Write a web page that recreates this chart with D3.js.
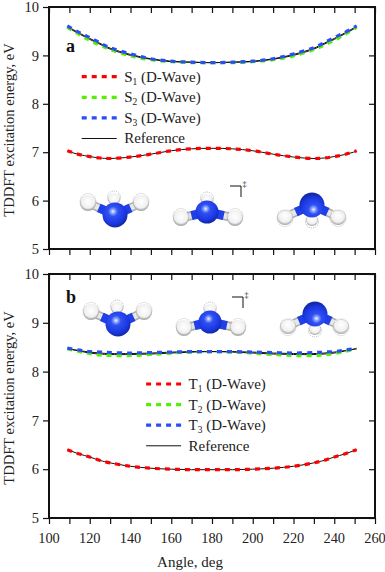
<!DOCTYPE html>
<html>
<head>
<meta charset="utf-8">
<script src="https://cdn.jsdelivr.net/npm/d3@7"></script>
<style>
  html, body { margin: 0; padding: 0; background: #fff; }
  text { font-family: "Liberation Serif", serif; fill: #222; }
</style>
</head>
<body>
<div id="chart"></div>
<script>
//Data
const angles = [109, 115, 120, 125, 130, 140, 150, 160, 170, 180, 190, 200, 210, 220, 230, 235, 240, 245, 251];

const s1Wave = [7.03, 6.95, 6.91, 6.88, 6.87, 6.90, 6.96, 7.03, 7.07, 7.08, 7.07, 7.03, 6.96, 6.90, 6.87, 6.88, 6.91, 6.95, 7.03];
const s2Wave = [9.58, 9.43, 9.31, 9.21, 9.12, 8.99, 8.91, 8.87, 8.85, 8.85, 8.85, 8.87, 8.91, 8.99, 9.12, 9.21, 9.31, 9.43, 9.58];
const s3Wave = [9.61, 9.47, 9.37, 9.26, 9.16, 9.03, 8.93, 8.88, 8.86, 8.85, 8.86, 8.88, 8.93, 9.03, 9.16, 9.26, 9.37, 9.47, 9.61];
const s1Ref = [7.02, 6.95, 6.91, 6.88, 6.87, 6.90, 6.96, 7.03, 7.07, 7.08, 7.07, 7.03, 6.96, 6.90, 6.87, 6.88, 6.91, 6.95, 7.02];
const s2Ref = [9.58, 9.44, 9.33, 9.23, 9.13, 9.00, 8.92, 8.87, 8.86, 8.85, 8.86, 8.87, 8.92, 9.00, 9.13, 9.23, 9.33, 9.44, 9.58];
const s3Ref = [9.60, 9.46, 9.35, 9.25, 9.15, 9.02, 8.93, 8.88, 8.86, 8.85, 8.86, 8.88, 8.93, 9.02, 9.15, 9.25, 9.35, 9.46, 9.60];

const t1Wave = [6.40, 6.31, 6.25, 6.18, 6.13, 6.06, 6.02, 6.00, 5.99, 5.99, 5.99, 6.00, 6.02, 6.06, 6.13, 6.18, 6.25, 6.31, 6.40];
const t2Wave = [8.47, 8.41, 8.37, 8.34, 8.33, 8.33, 8.35, 8.38, 8.40, 8.41, 8.40, 8.38, 8.35, 8.33, 8.33, 8.34, 8.37, 8.41, 8.47];
const t3Wave = [8.48, 8.44, 8.41, 8.40, 8.39, 8.38, 8.39, 8.40, 8.41, 8.41, 8.41, 8.40, 8.39, 8.38, 8.39, 8.40, 8.41, 8.44, 8.48];
const t1Ref = [6.40, 6.31, 6.25, 6.18, 6.13, 6.06, 6.02, 6.00, 5.99, 5.99, 5.99, 6.00, 6.02, 6.06, 6.13, 6.18, 6.25, 6.31, 6.40];
const t2Ref = [8.47, 8.42, 8.38, 8.36, 8.35, 8.35, 8.36, 8.38, 8.40, 8.41, 8.40, 8.38, 8.36, 8.35, 8.35, 8.36, 8.38, 8.42, 8.47];
const t3Ref = [8.47, 8.43, 8.40, 8.38, 8.37, 8.37, 8.38, 8.40, 8.41, 8.41, 8.41, 8.40, 8.38, 8.37, 8.37, 8.38, 8.40, 8.43, 8.47];

const xMajor = [100, 120, 140, 160, 180, 200, 220, 240, 260];
const xMinor = [100, 110, 120, 130, 140, 150, 160, 170, 180, 190, 200, 210, 220, 230, 240, 250, 260];
const yTicks = [5, 6, 7, 8, 9, 10];

const seriesColors = ['#ff0000', '#55f000', '#2a4df5'];

//Chart dimensions
const left = 49, right = 375;
const panelA = { top: 7, bot: 249, letter: 'a', letterY: 52, prefix: 'S', wave: [s1Wave, s2Wave, s3Wave], ref: [s1Ref, s2Ref, s3Ref],
  legendX: 124.4, legendY: 8.56 };
const panelB = { top: 274, bot: 518, letter: 'b', letterY: 303, prefix: 'T', wave: [t1Wave, t2Wave, t3Wave], ref: [t1Ref, t2Ref, t3Ref],
  legendX: 156, legendY: 7.746 };

const xScale = d3.scaleLinear().domain([100, 260]).range([left, right]);

const svg = d3.select('#chart').append('svg')
  .attr('width', 385)
  .attr('height', 572)
  .style('display', 'block');

const defs = svg.append('defs');
function nucleus(id, cx, cy) {
  const grad = defs.append('radialGradient').attr('id', id)
    .attr('cx', cx).attr('cy', cy).attr('r', '0.62');
  grad.append('stop').attr('offset', '0').attr('stop-color', '#f2f6ff');
  grad.append('stop').attr('offset', '0.14').attr('stop-color', '#8aa4ff');
  grad.append('stop').attr('offset', '0.32').attr('stop-color', '#2f50f2');
  grad.append('stop').attr('offset', '0.8').attr('stop-color', '#1a36e0');
  grad.append('stop').attr('offset', '1').attr('stop-color', '#142aa8');
}
nucleus('nDown', '0.42', '0.36');
nucleus('nFlat', '0.44', '0.36');
nucleus('nUp', '0.56', '0.68');
const hGrad = defs.append('radialGradient').attr('id', 'hGrad')
  .attr('cx', '0.5').attr('cy', '0.42').attr('r', '0.62');
hGrad.append('stop').attr('offset', '0').attr('stop-color', '#ffffff');
hGrad.append('stop').attr('offset', '0.65').attr('stop-color', '#f0f0f0');
hGrad.append('stop').attr('offset', '1').attr('stop-color', '#8c8c8c');

function drawPanel(p) {
  const yScale = d3.scaleLinear().domain([5, 10]).range([p.bot, p.top]);
  const g = svg.append('g');

  //Lines
  const line = d3.line()
    .x((d, i) => xScale(angles[i]))
    .y(d => yScale(d))
    .curve(d3.curveCatmullRom);

  p.ref.forEach(values => {
    g.append('path')
      .attr('d', line(values))
      .attr('fill', 'none')
      .attr('stroke', '#111')
      .attr('stroke-width', 1);
  });
  p.wave.forEach((values, i) => {
    g.append('path')
      .attr('d', line(values))
      .attr('fill', 'none')
      .attr('stroke', seriesColors[i])
      .attr('stroke-width', 3.2)
      .attr('stroke-dasharray', '5 5');
  });

  //Axes
  g.append('g').attr('transform', `translate(0, ${p.bot})`)
    .call(d3.axisBottom(xScale).tickValues(xMinor).tickFormat('').tickSizeOuter(0));
  g.append('g').attr('transform', `translate(0, ${p.top})`)
    .call(d3.axisTop(xScale).tickValues(xMinor).tickFormat('').tickSizeOuter(0).tickSizeInner(-6));
  g.append('g').attr('transform', `translate(${left}, 0)`)
    .attr('class', 'y-left')
    .call(d3.axisLeft(yScale).tickValues(yTicks).tickFormat(d3.format('d')).tickSizeOuter(0).tickSize(6).tickPadding(4));
  g.append('g').attr('transform', `translate(${right}, 0)`)
    .call(d3.axisRight(yScale).tickValues(yTicks).tickFormat('').tickSizeOuter(0).tickSizeInner(-6));

  g.selectAll('.tick line').attr('stroke', '#111').attr('stroke-width', 1.2);
  g.selectAll('.domain').remove();
  g.selectAll('.y-left text').style('font-family', '"Liberation Serif", serif').style('font-size', '14.5px').attr('fill', '#222');

  //Frame
  g.append('rect')
    .attr('x', left)
    .attr('y', p.top)
    .attr('width', right - left)
    .attr('height', p.bot - p.top)
    .attr('fill', 'none')
    .attr('stroke', '#111')
    .attr('stroke-width', 2);

  //Panel letter
  g.append('text')
    .attr('x', 66)
    .attr('y', p.letterY)
    .style('font-size', '18px')
    .style('font-weight', 'bold')
    .style('fill', '#111')
    .text(p.letter);

  //Y label
  g.append('text')
    .attr('transform', `translate(13.5, ${(p.top + p.bot) / 2 + 2}) rotate(-90)`)
    .attr('text-anchor', 'middle')
    .style('font-size', '14.5px')
    .text('TDDFT excitation energy, eV');

  //Legend
  const lx = xScale(p.legendX) - 17;
  const ly = yScale(p.legendY);
  [0, 1, 2, 3].forEach(i => {
    const rowY = ly + i * 20.6;
    g.append('line')
      .attr('x1', lx).attr('x2', lx + 35)
      .attr('y1', rowY).attr('y2', rowY)
      .attr('stroke', i < 3 ? seriesColors[i] : '#111')
      .attr('stroke-width', i < 3 ? 3.2 : 1)
      .attr('stroke-dasharray', i < 3 ? '5 5' : null);
    const label = g.append('text')
      .attr('x', lx + 42.5)
      .attr('y', rowY + 5)
      .style('font-size', '15px');
    if (i < 3) {
      label.append('tspan').text(p.prefix);
      label.append('tspan').attr('dy', 3).style('font-size', '9.5px').text(i + 1);
      label.append('tspan').attr('dy', -3).text(' (D-Wave)');
    } else {
      label.text('Reference');
    }
  });
  return g;
}

//Ball and stick NH3, offsets are from the N atom
const moleculeShapes = {
  down: { grad: 'nDown', r: 12.5, side: [[-27, -12], [26, -12]], rear: [-1, -16], rearR: 6, ghost: -1.5 },
  flat: { grad: 'nFlat', r: 11.5, side: [[-26, 6], [28, 6]], rear: [0, -12], rearR: 6, ghost: -1.5 },
  up: { grad: 'nUp', r: 12.5, side: [[-27, 12], [26, 12]], rear: [0, 15], rearR: 6, ghost: 1.5 }
};

function molecule(g, cx, cy, kind) {
  const s = moleculeShapes[kind];
  const m = g.append('g').attr('transform', `translate(${cx}, ${cy})`);
  //the rear H sits behind the N
  m.append('circle').attr('cx', s.rear[0]).attr('cy', s.rear[1]).attr('r', s.rearR)
    .attr('fill', 'url(#hGrad)');
  m.append('circle').attr('cx', s.rear[0]).attr('cy', s.rear[1] + s.ghost).attr('r', s.rearR + 0.5)
    .attr('fill', 'none').attr('stroke', '#888').attr('stroke-dasharray', '1 1').attr('stroke-width', 0.6);
  s.side.forEach(h => {
    m.append('line').attr('x1', 0).attr('y1', 0).attr('x2', h[0]).attr('y2', h[1])
      .attr('stroke', '#b0b0b0').attr('stroke-width', 9);
    m.append('line').attr('x1', h[0] * 0.45).attr('y1', h[1] * 0.45).attr('x2', h[0] * 0.85).attr('y2', h[1] * 0.85)
      .attr('stroke', '#e8e8e8').attr('stroke-width', 5.5);
    m.append('line').attr('x1', 0).attr('y1', 0).attr('x2', h[0] * 0.6).attr('y2', h[1] * 0.6)
      .attr('stroke', '#1f3fe8').attr('stroke-width', 9);
    m.append('circle').attr('cx', h[0]).attr('cy', h[1]).attr('r', 8).attr('fill', 'url(#hGrad)');
    m.append('circle').attr('cx', h[0]).attr('cy', h[1] + s.ghost).attr('r', 8)
      .attr('fill', 'none').attr('stroke', '#888').attr('stroke-dasharray', '1 1').attr('stroke-width', 0.5);
  });
  m.append('circle').attr('r', s.r).attr('fill', `url(#${s.grad})`);
}

function transitionMark(g, x, y) {
  g.append('path')
    .attr('d', `M${x - 11},${y} H${x} V${y + 11}`)
    .attr('fill', 'none')
    .attr('stroke', '#111')
    .attr('stroke-width', 1);
  g.append('text').attr('x', x + 1.5).attr('y', y + 1).style('font-size', '8px').text('\u2021');
}

const a = drawPanel(panelA);
const b = drawPanel(panelB);

molecule(a, 115, 215, 'down');
molecule(a, 207, 212, 'flat');
molecule(a, 312, 205, 'up');
transitionMark(a, 241, 186);

molecule(b, 118, 324, 'down');
molecule(b, 210, 322, 'flat');
molecule(b, 315, 314, 'up');
transitionMark(b, 243, 297);

//Bottom x labels
const xLabels = svg.append('g').attr('transform', `translate(-0.5, ${panelB.bot})`)
  .call(d3.axisBottom(xScale).tickValues(xMajor).tickFormat(d3.format('d')).tickSize(6).tickPadding(9));
xLabels.selectAll('.domain').remove();
xLabels.selectAll('.tick line').attr('stroke', 'none');
xLabels.selectAll('text').style('font-family', '"Liberation Serif", serif').style('font-size', '14.4px').attr('fill', '#222');

svg.append('text')
  .attr('x', 190)
  .attr('y', 567)
  .attr('text-anchor', 'middle')
  .style('font-size', '15px')
  .text('Angle, deg');
</script>
</body>
</html>
